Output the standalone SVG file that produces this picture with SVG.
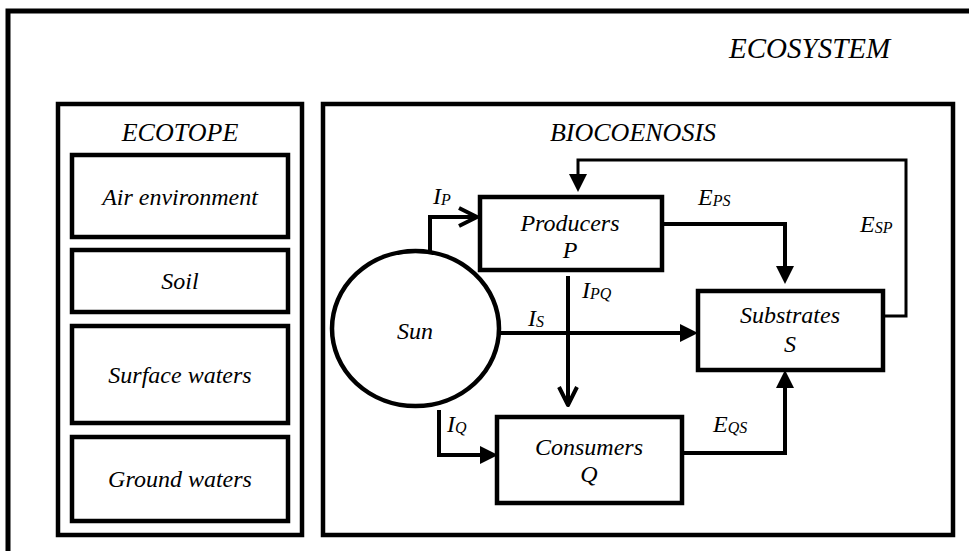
<svg xmlns="http://www.w3.org/2000/svg" width="969" height="551" viewBox="0 0 969 551">
<style>
.box{fill:none;stroke:#000;stroke-width:4.5}
.ln{fill:none;stroke:#000;stroke-width:4}
.thin{fill:none;stroke:#000;stroke-width:3}
</style>
<defs>
<marker id="fa" markerUnits="userSpaceOnUse" markerWidth="18" markerHeight="18" refX="0" refY="9" orient="auto" overflow="visible">
<path d="M0,0 L18,9 L0,18 z" fill="#000"/>
</marker>
<marker id="oa" markerUnits="userSpaceOnUse" markerWidth="20" markerHeight="22" refX="18" refY="10" orient="auto" overflow="visible">
<path d="M0,1 L18,10 L0,19" fill="none" stroke="#000" stroke-width="4" stroke-linejoin="round"/>
</marker>
</defs>
<rect width="969" height="551" fill="#fff"/>
<g id="ecosystem">
<path d="M8,551 V11 H975" fill="none" stroke="#000" stroke-width="5"/>
<text x="729" y="58" font-family="Times New Roman, serif" font-style="italic" font-size="29">ECOSYSTEM</text>
</g>
<g id="ecotope">
<rect class="box" x="58" y="104" width="244" height="431"/>
<text x="180" y="141" font-family="Times New Roman, serif" font-style="italic" font-size="26" text-anchor="middle">ECOTOPE</text>
</g>
<g id="air">
<rect class="box" x="72" y="155" width="216" height="82"/>
<text x="180" y="205" font-family="Times New Roman, serif" font-style="italic" font-size="24" text-anchor="middle">Air environment</text>
</g>
<g id="soil">
<rect class="box" x="72" y="250" width="216" height="62"/>
<text x="180" y="289" font-family="Times New Roman, serif" font-style="italic" font-size="24" text-anchor="middle">Soil</text>
</g>
<g id="surface">
<rect class="box" x="72" y="326" width="216" height="97"/>
<text x="180" y="383" font-family="Times New Roman, serif" font-style="italic" font-size="24" text-anchor="middle">Surface waters</text>
</g>
<g id="ground">
<rect class="box" x="72" y="437" width="216" height="84"/>
<text x="180" y="487" font-family="Times New Roman, serif" font-style="italic" font-size="24" text-anchor="middle">Ground waters</text>
</g>
<g id="biocoenosis">
<rect class="box" x="323" y="104" width="630" height="431"/>
<text x="633" y="141" font-family="Times New Roman, serif" font-style="italic" font-size="26" text-anchor="middle">BIOCOENOSIS</text>
</g>
<g id="sun">
<ellipse class="box" cx="415.5" cy="328.5" rx="83.5" ry="77.5"/>
<text x="415" y="339" font-family="Times New Roman, serif" font-style="italic" font-size="24" text-anchor="middle">Sun</text>
</g>
<g id="producers">
<rect class="box" x="480" y="197" width="182" height="73"/>
<text x="570" y="231" font-family="Times New Roman, serif" font-style="italic" font-size="24" text-anchor="middle">Producers</text>
<text x="570" y="258" font-family="Times New Roman, serif" font-style="italic" font-size="24" text-anchor="middle">P</text>
</g>
<g id="substrates">
<rect class="box" x="698" y="291" width="185" height="79"/>
<text x="790" y="323" font-family="Times New Roman, serif" font-style="italic" font-size="24" text-anchor="middle">Substrates</text>
<text x="790" y="352" font-family="Times New Roman, serif" font-style="italic" font-size="24" text-anchor="middle">S</text>
</g>
<g id="consumers">
<rect class="box" x="497" y="417" width="185" height="86"/>
<text x="589" y="455" font-family="Times New Roman, serif" font-style="italic" font-size="24" text-anchor="middle">Consumers</text>
<text x="589" y="482" font-family="Times New Roman, serif" font-style="italic" font-size="24" text-anchor="middle">Q</text>
</g>
<g id="connectors">
<path class="ln" d="M430,251 V217 H477" marker-end="url(#oa)"/>
<path class="ln" d="M568,276 V405" marker-end="url(#oa)"/>
<path class="ln" d="M499,333 H680" marker-end="url(#fa)"/>
<path class="ln" d="M662,224 H785 V266" marker-end="url(#fa)"/>
<path class="thin" d="M883,316 H906 V160 H578 V174" marker-end="url(#fa)"/>
<path class="ln" d="M682,453 H785 V388" marker-end="url(#fa)"/>
<path class="ln" d="M439,410 V455 H480" marker-end="url(#fa)"/>
<text x="433" y="204" font-family="Times New Roman, serif" font-style="italic" font-size="24">I<tspan font-size="16" dy="1">P</tspan></text>
<text x="698" y="205" font-family="Times New Roman, serif" font-style="italic" font-size="24">E<tspan font-size="16" dy="1">PS</tspan></text>
<text x="860" y="232" font-family="Times New Roman, serif" font-style="italic" font-size="24">E<tspan font-size="16" dy="1">SP</tspan></text>
<text x="582" y="298" font-family="Times New Roman, serif" font-style="italic" font-size="24">I<tspan font-size="16" dy="1">PQ</tspan></text>
<text x="528" y="326" font-family="Times New Roman, serif" font-style="italic" font-size="24">I<tspan font-size="16" dy="1">S</tspan></text>
<text x="447" y="432" font-family="Times New Roman, serif" font-style="italic" font-size="24">I<tspan font-size="16" dy="1">Q</tspan></text>
<text x="713" y="432" font-family="Times New Roman, serif" font-style="italic" font-size="24">E<tspan font-size="16" dy="1">QS</tspan></text>
</g>
</svg>
